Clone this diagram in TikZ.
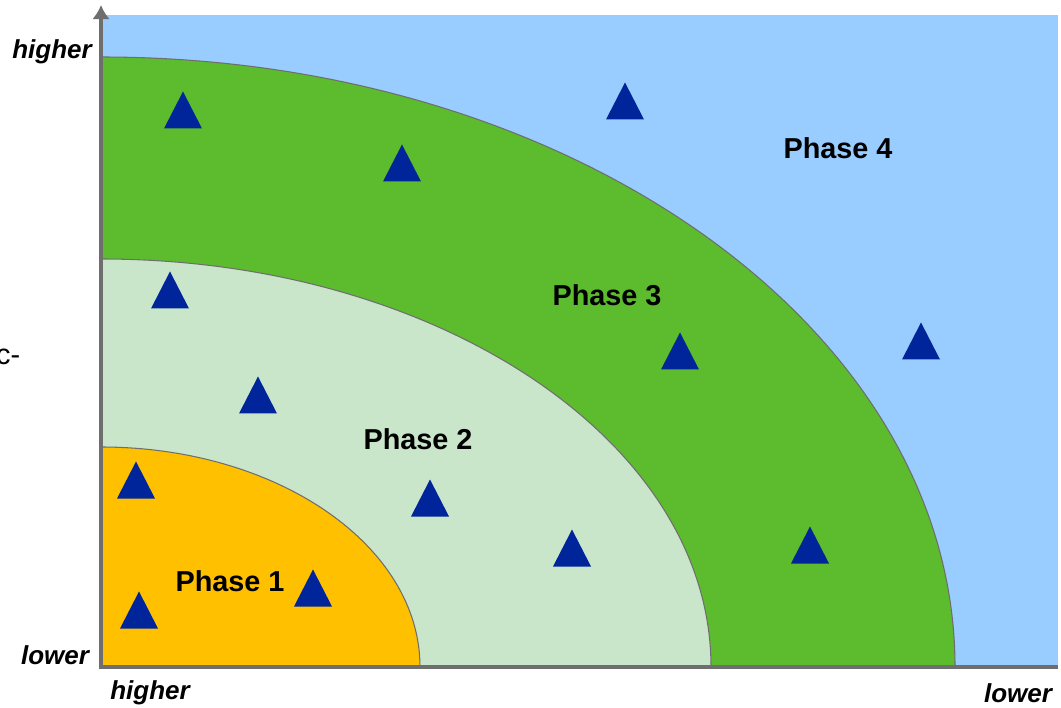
\documentclass[tikz,border=0pt]{standalone}
\usepackage{fontspec}
\setmainfont{Liberation Sans}
\usetikzlibrary{positioning, arrows.meta}
\definecolor{skyblue}{HTML}{99CCFF}
\definecolor{phasegreen}{HTML}{5DBB2E}
\definecolor{palegreen}{HTML}{C9E6CB}
\definecolor{amber}{HTML}{FFC000}
\definecolor{markblue}{HTML}{00259A}
\definecolor{axisgray}{HTML}{6E6E6E}

\begin{document}
\begin{tikzpicture}[line width=1.pt,
                phaselabel/.style={font=\fontsize{16.4}{18}\selectfont\bfseries, inner sep=0pt},
                axislabel/.style={font=\fontsize{14.8}{17}\selectfont\bfseries\itshape, inner sep=0pt},
                region/.style={draw=axisgray, line width=0.6pt},
                marker/.style={fill=markblue}]
                \useasboundingbox (0,0) rectangle (21.22,14.14);
                \coordinate (o) at (2.02,0.80);

                \fill[skyblue] (2.06,0.80) rectangle (21.16,13.84);
                \filldraw[region, fill=phasegreen] (o) -- ++(17.08,0) arc[start angle=0, end angle=90, x radius=17.08cm, y radius=12.20cm] -- cycle;
                \filldraw[region, fill=palegreen] (o) -- ++(12.20,0) arc[start angle=0, end angle=90, x radius=12.20cm, y radius=8.16cm] -- cycle;
                \filldraw[region, fill=amber] (o) -- ++(6.38,0) arc[start angle=0, end angle=90, x radius=6.38cm, y radius=4.40cm] -- cycle;

                \foreach \x/\y in {3.66/11.94, 8.04/10.88, 12.50/12.12, 3.40/8.34, 5.16/6.24, 13.60/7.12,
                                   18.42/7.32, 2.72/4.54, 8.60/4.18, 11.44/3.18, 16.20/3.24, 6.26/2.38, 2.78/1.94}
                    \fill[marker] (\x,\y) +(-0.38,-0.37) -- +(0.38,-0.37) -- +(0,0.37) -- cycle;

                \node[phaselabel] (p4) at (16.76,11.18) {Phase 4};
                \node[phaselabel] (p3) at (12.14,8.24) {Phase 3};
                \node[phaselabel] (p2) at (8.36,5.36) {Phase 2};
                \node[phaselabel] (p1) at (4.60,2.52) {Phase 1};

                \coordinate (ytop) at (2.02,14.04);
                \coordinate (xend) at (21.16,0.80);
                \draw[axisgray, line width=2.2pt, -{Latex[length=8pt, width=10pt]}] (o) -- (ytop);
                \draw[axisgray, line width=2.2pt] ([xshift=-1.1pt]o) -- (xend);

                \node[axislabel] (yhigh) at (1.04,13.10) {higher};
                \node[axislabel] (ylow) at (1.10,1.04) {lower};
                \node[axislabel] (xhigh) at (3.00,0.28) {higher};
                \node[axislabel] (xlow) at (20.36,0.28) {lower};
                \node[font=\fontsize{16.4}{18}\selectfont, inner sep=0pt, anchor=east] (ycut) at (0.42,7.0) {c-};
             \end{tikzpicture}
\end{document}
